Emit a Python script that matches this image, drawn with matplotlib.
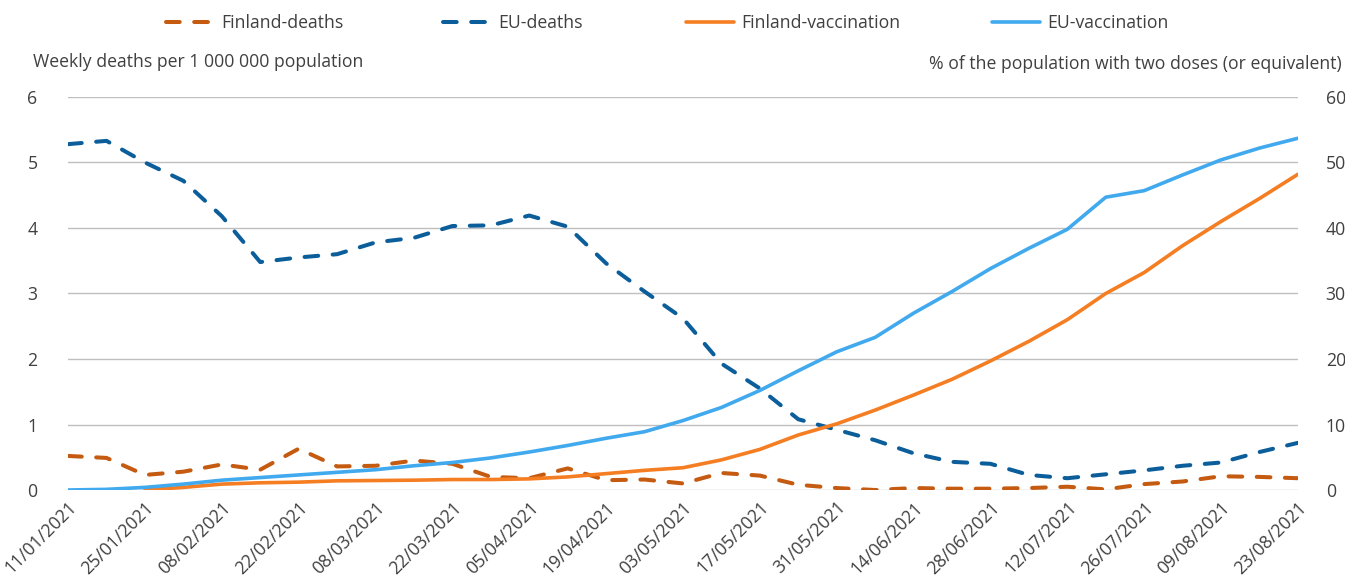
import numpy as np
import pandas as pd
import matplotlib
matplotlib.use("Agg")
import matplotlib.pyplot as plt

# weekly dates, 11/01/2021 .. 23/08/2021
weeks = pd.date_range("2021-01-11", "2021-08-23", freq="7D")
week_labels = [d.strftime("%d/%m/%Y") for d in weeks]

finland_deaths = [0.52, 0.49, 0.23, 0.28, 0.39, 0.31, 0.63, 0.36, 0.37, 0.45,
                  0.40, 0.20, 0.18, 0.33, 0.15, 0.16, 0.10, 0.26, 0.22, 0.08,
                  0.03, 0.00, 0.03, 0.02, 0.02, 0.03, 0.05, 0.01, 0.09, 0.13,
                  0.21, 0.20, 0.18]
eu_deaths = [5.28, 5.33, 5.00, 4.72, 4.18, 3.48, 3.55, 3.60, 3.78, 3.85,
             4.03, 4.04, 4.19, 4.02, 3.46, 3.03, 2.62, 1.93, 1.55, 1.08,
             0.92, 0.76, 0.56, 0.43, 0.40, 0.23, 0.18, 0.24, 0.30, 0.37,
             0.42, 0.58, 0.72]
finland_vacc = [np.nan, np.nan, 0.0, 0.4, 0.9, 1.1, 1.2, 1.4, 1.45, 1.5,
                1.6, 1.6, 1.7, 2.0, 2.5, 3.0, 3.4, 4.6, 6.2, 8.4,
                10.1, 12.2, 14.5, 16.9, 19.7, 22.7, 26.0, 30.0, 33.2, 37.3,
                41.0, 44.5, 48.2]
eu_vacc = [0.0, 0.1, 0.4, 0.9, 1.5, 1.9, 2.3, 2.7, 3.1, 3.7,
           4.2, 4.9, 5.8, 6.8, 7.9, 8.9, 10.6, 12.6, 15.2, 18.2,
           21.1, 23.3, 27.0, 30.3, 33.8, 36.9, 39.8, 44.7, 45.7, 48.1,
           50.4, 52.2, 53.7]

plt.rcParams['font.family'] = ['Open Sans', 'DejaVu Sans']
txt = '#404040'
fs = 12.7

fig = plt.figure(figsize=(13.45, 5.79), dpi=100)
ax = fig.add_axes([0.0506, 0.1537, 0.9144, 0.6788])
ax2 = ax.twinx()

x = np.arange(len(weeks))
dash = (3.4, 3.6)
l1, = ax.plot(x, finland_deaths, color='#C55A11', lw=2.9, dashes=dash,
              dash_capstyle='round', dash_joinstyle='round', label='Finland-deaths')
l2, = ax.plot(x, eu_deaths, color='#0C5E9B', lw=2.9, dashes=dash,
              dash_capstyle='round', dash_joinstyle='round', label='EU-deaths')
l3, = ax2.plot(x, finland_vacc, color='#F57D22', lw=2.6, solid_capstyle='round',
               solid_joinstyle='round', label='Finland-vaccination')
l4, = ax2.plot(x, eu_vacc, color='#41A9EE', lw=2.6, solid_capstyle='round',
               solid_joinstyle='round', label='EU-vaccination')

ax.set_xlim(0, len(weeks) - 1)
ax.set_ylim(0, 6)
ax2.set_ylim(0, 60)
ax.set_yticks(range(0, 7))
ax2.set_yticks(range(0, 61, 10))
ax.grid(axis='y', color='#BFBFBF', lw=1)
ax.set_axisbelow(True)

for a in (ax, ax2):
    for s in a.spines.values():
        s.set_visible(False)
    a.tick_params(length=0, labelsize=fs, colors=txt)
ax.tick_params(axis='y', pad=22)
ax2.tick_params(axis='y', pad=20)

ax.set_xticks(x[::2])
ax.set_xticklabels(week_labels[::2], rotation=45, ha='right', rotation_mode='anchor')
ax.tick_params(axis='x', pad=6)

fig.text(33 / 1345, 1 - 62 / 579, 'Weekly deaths per 1 000 000 population',
         fontsize=fs, color=txt, va='center', ha='left')
fig.text(1342 / 1345, 1 - 64 / 579, '% of the population with two doses (or equivalent)',
         fontsize=fs, color=txt, va='center', ha='right')

# legend entries sit at uneven spacing in the original, so one legend each
legend_x = [166, 443, 686, 992]
for h, lx in zip([l1, l2, l3, l4], legend_x):
    fig.legend(handles=[h], loc='center left', bbox_to_anchor=(lx / 1345, 1 - 23 / 579),
               frameon=False, fontsize=fs, handlelength=2.7, handletextpad=0.45,
               borderpad=0, borderaxespad=0, labelcolor=txt)

fig.savefig('out.png', dpi=100)
